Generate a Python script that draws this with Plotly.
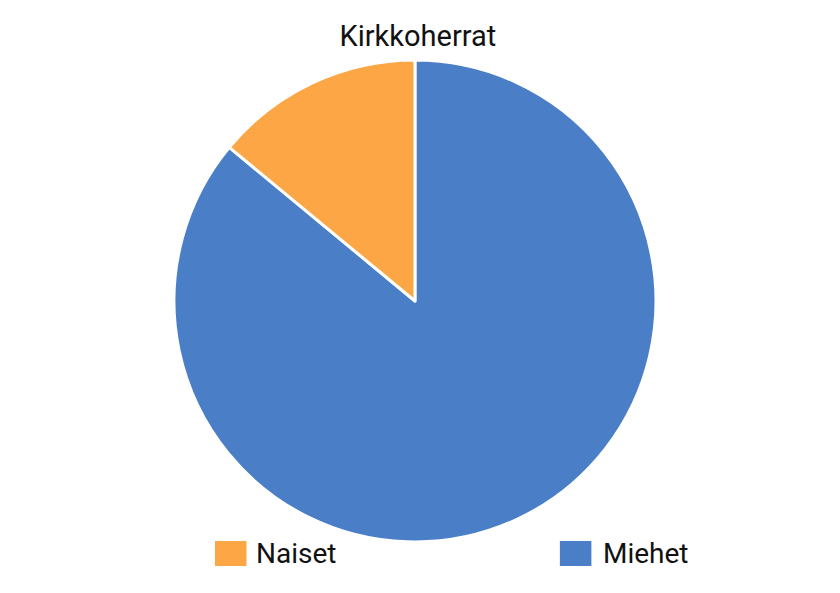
import plotly.graph_objects as go

categories = ["Naiset", "Miehet"]
values = [14, 86]
colors = ["#FCA645", "#4A7EC6"]
title_text = "Kirkkoherrat"

# Pie drawn clockwise from 12 o'clock with Miehet first so that Naiset lies left of 12
fig = go.Figure(go.Pie(
    labels=categories[::-1],
    values=values[::-1],
    sort=False,
    direction="clockwise",
    rotation=0,
    marker=dict(colors=colors[::-1], line=dict(color="white", width=3)),
    textinfo="none",
    hoverinfo="label+value",
    domain=dict(x=[0.1976, 0.7714], y=[0.0995, 0.9123]),
    showlegend=False,
))

font_family = "Roboto, Noto Sans, sans-serif"

# custom legend (large swatches as in the reference)
legend_pos = [(0.2464, 0.0801, 0.2929), (0.657, 0.0801, 0.706)]
for (lx, ly, tx), name, col in zip(legend_pos, categories, colors):
    fig.add_shape(type="rect", xref="paper", yref="paper",
                  x0=lx, x1=lx + 0.0375, y0=ly - 0.021, y1=ly + 0.021,
                  fillcolor=col, line=dict(width=0))
    fig.add_annotation(xref="paper", yref="paper", x=tx, y=ly,
                       text=name, showarrow=False, xanchor="left", yanchor="middle",
                       font=dict(family=font_family, size=28, color="#111111"))

fig.update_layout(
    width=840, height=593,
    margin=dict(l=0, r=0, t=0, b=0),
    paper_bgcolor="white",
    plot_bgcolor="white",
    title=dict(text=title_text, x=0.488, xanchor="center", y=0.953, yanchor="middle",
               font=dict(family=font_family, size=29, color="#111111")),
)

fig.write_html("out.html")
